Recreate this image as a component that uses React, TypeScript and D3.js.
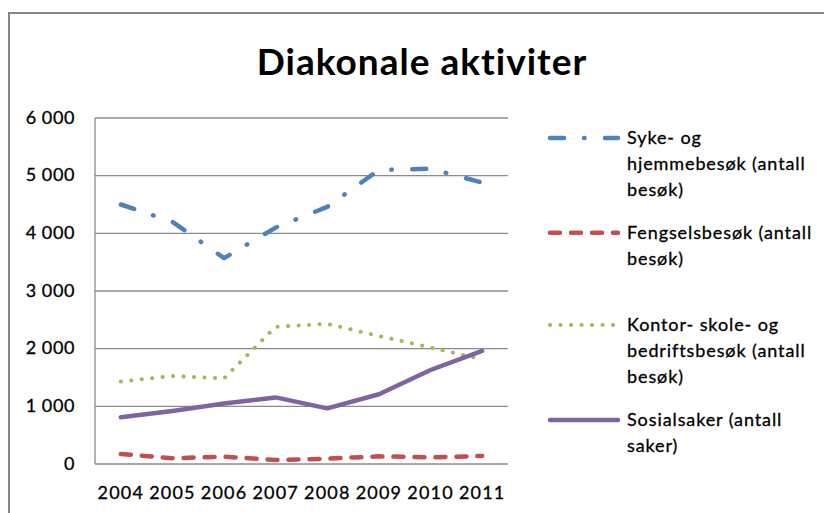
import React from "react";
import * as d3 from "d3";

const years = ["2004", "2005", "2006", "2007", "2008", "2009", "2010", "2011"];
const syke = [4500, 4200, 3570, 4100, 4460, 5100, 5120, 4880];
const fengsel = [175, 100, 127, 70, 92, 133, 116, 139];
const kontor = [1430, 1525, 1485, 2380, 2430, 2220, 2020, 1815];
const sosial = [810, 920, 1050, 1155, 965, 1210, 1630, 1960];
const yTicks = [0, 1000, 2000, 3000, 4000, 5000, 6000];
const title = "Diakonale aktiviter";
const legendLabels = [
  ["Syke- og", "hjemmebesøk (antall", "besøk)"],
  ["Fengselsbesøk (antall", "besøk)"],
  ["Kontor- skole- og", "bedriftsbesøk (antall", "besøk)"],
  ["Sosialsaker (antall", "saker)"],
];

const series = [
  { values: syke, color: "#4F81BD", dash: "14 20 0.5 20.5", width: 4.5 },
  { values: fengsel, color: "#C0504D", dash: "10 11", width: 4.5 },
  { values: kontor, color: "#9BBB59", dash: "0.1 10.4", width: 4 },
  { values: sosial, color: "#8064A2", dash: "none", width: 4.5 },
];
const legendRowY = [138, 232.7, 325, 420];

const FONT = "Lato, 'Open Sans', sans-serif";
const fmt = d3.formatLocale({ decimal: ",", thousands: " ", grouping: [3], currency: ["", ""] }).format(",");

const textStyle = { stroke: "#000", strokeWidth: 0.3 };

export default function App() {
  const x = d3.scaleBand().domain(years).range([95, 508]).padding(0);
  const cx = (d: string) => (x(d) as number) + x.bandwidth() / 2;
  const y = d3.scaleLinear().domain([0, 6000]).range([464, 118]);
  const line = d3
    .line<number>()
    .x((_, i) => cx(years[i]))
    .y((v) => y(v));

  return (
    <svg width={824} height={513} style={{ position: "absolute", left: 0, top: 0, background: "#fff" }}>
      <rect x={9} y={13} width={840} height={600} fill="#fff" stroke="#868686" strokeWidth={2} />
      <text
        x={422}
        y={75}
        textAnchor="middle"
        fontFamily={FONT}
        fontWeight="bold"
        fontSize={37}
        letterSpacing={1}
        fill="#000"
      >
        {title}
      </text>
      {yTicks.map((t) => (
        <g key={t}>
          <line x1={95} x2={508} y1={y(t)} y2={y(t)} stroke="#8c8c8c" strokeWidth={1.3} />
          <text
            x={75}
            y={y(t) + 5.5}
            textAnchor="end"
            fontFamily={FONT}
            fontSize={18}
            letterSpacing={0.6}
            fill="#000"
            style={textStyle}
          >
            {fmt(t)}
          </text>
        </g>
      ))}
      <line x1={95} x2={95} y1={118} y2={464} stroke="#8c8c8c" strokeWidth={1.3} />
      {years.map((yr) => (
        <text
          key={yr}
          x={cx(yr)}
          y={499}
          textAnchor="middle"
          fontFamily={FONT}
          fontSize={18}
          letterSpacing={1.2}
          fill="#000"
          style={textStyle}
        >
          {yr}
        </text>
      ))}
      {series.map((s, i) => (
        <path
          key={i}
          d={line(s.values) as string}
          fill="none"
          stroke={s.color}
          strokeWidth={s.width}
          strokeDasharray={s.dash}
          strokeLinecap="round"
          strokeLinejoin="round"
        />
      ))}
      {series.map((s, i) => (
        <g key={"l" + i}>
          <line
            x1={550}
            x2={618}
            y1={legendRowY[i]}
            y2={legendRowY[i]}
            stroke={s.color}
            strokeWidth={s.width}
            strokeDasharray={s.dash}
            strokeLinecap="round"
          />
          {legendLabels[i].map((t, j) => (
            <text
              key={j}
              x={627}
              y={legendRowY[i] + 6 + j * 26}
              fontFamily={FONT}
              fontSize={18}
              letterSpacing={0.9}
              fill="#000"
              style={textStyle}
            >
              {t}
            </text>
          ))}
        </g>
      ))}
    </svg>
  );
}
